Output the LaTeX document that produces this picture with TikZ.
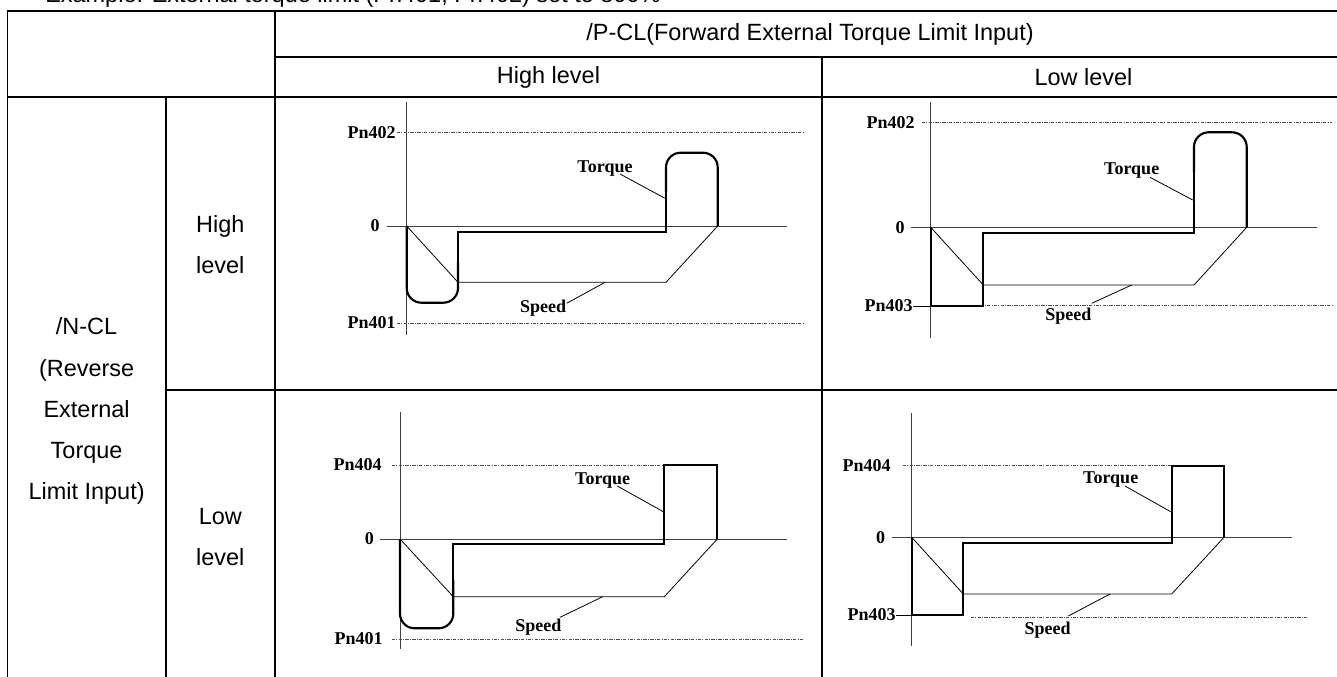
\documentclass[tikz,border=0pt]{standalone}
\usepackage{fontspec}
\setmainfont{Liberation Sans}
\newfontfamily\timesf{Liberation Serif}
\begin{document}
\begin{tikzpicture}[x=0.75pt,y=-0.75pt,
  tbl/.style={line width=1.3pt,line cap=rect},
  ax/.style={line width=0.6pt,black!75},
  lim/.style={line width=0.6pt,black!70,dash pattern=on 2.6pt off 0.9pt on 0.7pt off 0.9pt},
  trq/.style={line width=1.6pt},
  spd/.style={line width=0.6pt},
  lead/.style={line width=0.6pt},
  lbl/.style={font=\timesf\bfseries\fontsize{13.5}{15}\selectfont,inner sep=0pt},
  cell/.style={font=\fontsize{17.6}{30.8}\selectfont,align=center,inner sep=0pt}]
\useasboundingbox (0,0) rectangle (1337,677);
\fill[white] (0,0) rectangle (1337,677);
% caption (cut off at top)
\node[anchor=base west,inner sep=0pt,font=\fontsize{17.6}{20}\selectfont] (ex) at (45,3) {Example: External torque limit (Pn401, Pn402) set to 800\%};
% table
\draw[tbl] (7.5,11) -- (1345,11);
\draw[tbl] (275,57) -- (1345,57);
\draw[tbl] (7.5,97) -- (1345,97);
\draw[tbl] (165.7,390) -- (1345,390);
\draw[tbl] (7.5,11) -- (7.5,700);
\draw[tbl] (165.7,97) -- (165.7,700);
\draw[tbl] (275,11) -- (275,700);
\draw[tbl] (822,57) -- (822,700);
\node[cell] (hp) at (810,34) {/P-CL(Forward External Torque Limit Input)};
\node[cell] (hh) at (548.5,77) {High level};
\node[cell] (hl) at (1083.5,77) {Low level};
\node[cell] (nl) at (86.6,411) {/N-CL\\(Reverse\\External\\Torque\\Limit Input)};
\node[cell] (rh) at (220.3,244.5) {High\\level};
\node[cell] (rl) at (220.3,537.5) {Low\\level};
% ---------- chart A ----------
\draw[ax] (406.7,101.7) -- (406.7,335);
\draw[ax] (386.7,226) -- (786.7,226);
\draw[lim] (396.7,132.7) -- (803,132.7);
\draw[lim] (396.7,323) -- (803,323);
\node[lbl,anchor=east] (a402) at (396,132.7) {Pn402};
\node[lbl,anchor=east] (a401) at (396,323) {Pn401};
\node[lbl] (a0) at (375,226) {0};
\draw[trq,rounded corners=11pt] (406.7,226) -- (406.7,302.7) -- (458,302.7) -- (458,262);
\draw[trq] (458,264) -- (458,231.7) -- (666,231.7) -- (666,190);
\draw[trq,rounded corners=11pt] (666,192) -- (666,152.7) -- (717.7,152.7) -- (717.7,226);
\draw[spd] (406.7,226) -- (458,282.3) -- (666,282.3) -- (717.7,226);
\node[lbl] (aT) at (605,169) {Torque};
\node[lbl] (aS) at (543,308) {Speed};
\coordinate (aT1) at (620,174); \coordinate (aT2) at (665,198.3);
\coordinate (aS1) at (566.7,303.3); \coordinate (aS2) at (605,282.3);
\draw[lead] (aT1) -- (aT2);
\draw[lead] (aS1) -- (aS2);
% ---------- chart B ----------
\draw[ax] (930.7,101.7) -- (930.7,338);
\draw[ax] (910.7,227.3) -- (1316.7,227.3);
\draw[lim] (921.7,122.3) -- (1331.7,122.3);
\draw[lim] (973.3,305.5) -- (1333.3,305.5);
\node[lbl,anchor=east] (b402) at (915,122.3) {Pn402};
\node[lbl,anchor=east] (b403) at (913,306) {Pn403};
\node[lbl] (b0) at (900,227.3) {0};
\coordinate (b403a) at (930.7,306);
\draw[spd] (b403.east) -- (b403a);
\draw[trq] (930.7,227.3) -- (930.7,306) -- (983.3,306) -- (983.3,232.7) -- (1194,232.7) -- (1194,170);
\draw[trq,rounded corners=11pt] (1194,172) -- (1194,132.3) -- (1246.7,132.3) -- (1246.7,227.3);
\draw[spd] (930.7,227.3) -- (983.3,285) -- (1194,285) -- (1246.7,227.3);
\node[lbl] (bT) at (1131.7,171) {Torque};
\node[lbl] (bS) at (1068.3,316) {Speed};
\coordinate (bT1) at (1150,177.3); \coordinate (bT2) at (1192.7,200);
\coordinate (bS1) at (1091.7,303.3); \coordinate (bS2) at (1131.7,285);
\draw[lead] (bT1) -- (bT2);
\draw[lead] (bS1) -- (bS2);
% ---------- chart C ----------
\draw[ax] (400,412.3) -- (400,649.3);
\draw[ax] (380,539) -- (786.7,539);
\draw[lim] (391.7,465) -- (663,465);
\draw[lim] (391.7,639) -- (803.3,639);
\node[lbl,anchor=east] (c404) at (382,465) {Pn404};
\node[lbl,anchor=east] (c401) at (383,639) {Pn401};
\node[lbl] (c0) at (369.3,539) {0};
\draw[trq,rounded corners=11pt] (400,539) -- (400,628.3) -- (453.3,628.3) -- (453.3,580);
\draw[trq] (453.3,582) -- (453.3,544) -- (664.3,544) -- (664.3,465) -- (717.3,465) -- (717.3,539);
\draw[spd] (400,539) -- (453.3,596.7) -- (664.3,596.7) -- (717.3,539);
\node[lbl] (cT) at (602.7,481) {Torque};
\node[lbl] (cS) at (538.3,626.7) {Speed};
\coordinate (cT1) at (617.3,486); \coordinate (cT2) at (663.3,511.7);
\coordinate (cS1) at (560,617.3); \coordinate (cS2) at (602.7,596.7);
\draw[lead] (cT1) -- (cT2);
\draw[lead] (cS1) -- (cS2);
% ---------- chart D ----------
\draw[ax] (911.7,413.3) -- (911.7,646);
\draw[ax] (891.7,537.3) -- (1291.7,537.3);
\draw[lim] (902.7,465.7) -- (1171.7,465.7);
\draw[lim] (970.7,617.3) -- (1308.3,617.3);
\node[lbl,anchor=east] (d404) at (891,465.7) {Pn404};
\node[lbl,anchor=east] (d403) at (896,615) {Pn403};
\node[lbl] (d0) at (880.7,537.3) {0};
\coordinate (d403a) at (911.7,615);
\draw[spd] (d403.east) -- (d403a);
\draw[trq] (911.7,537.3) -- (911.7,615) -- (963.3,615) -- (963.3,542.7) -- (1171.7,542.7) -- (1171.7,465.7) -- (1224,465.7) -- (1224,537.3);
\draw[spd] (911.7,537.3) -- (963.3,594) -- (1171.7,594) -- (1224,537.3);
\node[lbl] (dT) at (1110.7,480) {Torque};
\node[lbl] (dS) at (1047.7,630) {Speed};
\coordinate (dT1) at (1125,486); \coordinate (dT2) at (1170.7,511.7);
\coordinate (dS1) at (1068.3,616); \coordinate (dS2) at (1110,594);
\draw[lead] (dT1) -- (dT2);
\draw[lead] (dS1) -- (dS2);
\end{tikzpicture}
\end{document}
